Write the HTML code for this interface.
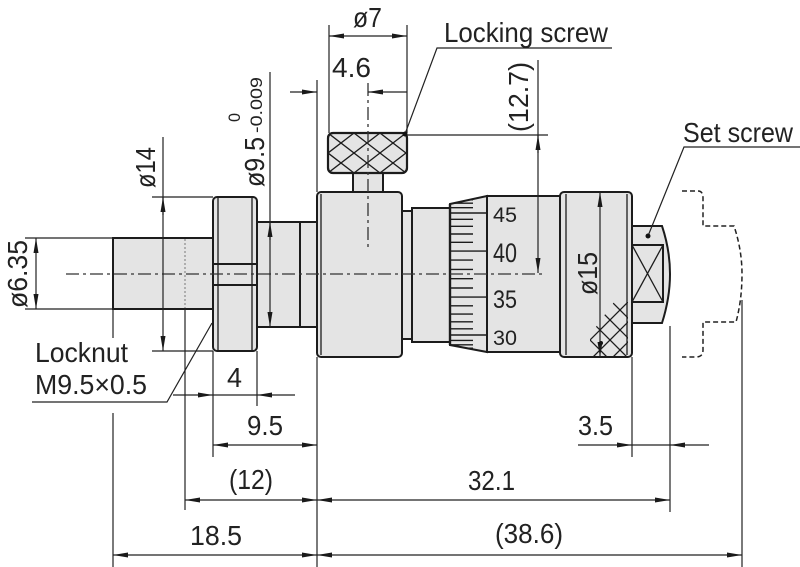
<!DOCTYPE html>
<html>
<head>
<meta charset="utf-8">
<style>
html,body{margin:0;padding:0;background:#fff;}
svg{display:block;}
text{font-family:"Liberation Sans",sans-serif;fill:#222;}
</style>
</head>
<body>
<svg width="800" height="567" viewBox="0 0 800 567" xmlns="http://www.w3.org/2000/svg">
<defs>
<marker id="a" viewBox="0 0 15 5" refX="15" refY="2.5" markerWidth="15" markerHeight="5" markerUnits="userSpaceOnUse" orient="auto-start-reverse"><path d="M0,0 L15,2.5 L0,5 Z" fill="#1a1a1a"/></marker>
<clipPath id="kn"><rect x="328" y="133" width="79" height="40" rx="5"/></clipPath>
<clipPath id="bev"><polygon points="451,204 487,196 487,352 451,345"/></clipPath>
<clipPath id="col"><polygon points="590,335 614,302 628,302 628,356 590,356"/></clipPath>
</defs>

<!-- ===== PARTS ===== -->
<g stroke="#1c1c1c" stroke-width="2" fill="#e4e4e4">
  <!-- spindle -->
  <rect x="113" y="238" width="100" height="71"/>
  <!-- thread -->
  <rect x="257" y="222" width="43" height="105"/>
  <rect x="300" y="222" width="17" height="105"/>
  <!-- locknut -->
  <rect x="213" y="197" width="44" height="154" rx="4"/>
  <!-- body -->
  <rect x="317" y="192" width="85" height="165" rx="4"/>
  <!-- locking screw stem -->
  <rect x="353" y="173" width="30" height="19"/>
  <!-- knurl head -->
  <rect x="328" y="133" width="79" height="40" rx="5"/>
  <!-- small ring -->
  <rect x="402" y="211" width="10" height="128"/>
  <!-- sleeve -->
  <rect x="412" y="208" width="38" height="134"/>
  <!-- thimble bevel -->
  <polygon points="450,204 487,196 487,352 450,345"/>
  <!-- thimble -->
  <rect x="487" y="196" width="73" height="156"/>
  <!-- collar -->
  <rect x="560" y="192" width="72" height="165" rx="4"/>
  <!-- set screw -->
  <path d="M632,226 L662,226 Q670,250 670,274 Q670,298 662,323 L632,323 Z"/>
</g>

<!-- inner detail lines -->
<g stroke="#1c1c1c" stroke-width="1.3" fill="none">
  <line x1="218" y1="198" x2="218" y2="350"/>
  <line x1="252" y1="198" x2="252" y2="350"/>
  <line x1="213" y1="264" x2="257" y2="264" stroke-width="2"/>
  <line x1="213" y1="285" x2="257" y2="285" stroke-width="2"/>
  <line x1="321" y1="194" x2="321" y2="355"/>
  <line x1="566" y1="194" x2="566" y2="355"/>
  <line x1="627" y1="194" x2="627" y2="355"/>
  <rect x="632" y="245" width="31" height="57" stroke-width="2"/>
  <line x1="632" y1="245" x2="663" y2="302"/>
  <line x1="663" y1="245" x2="632" y2="302"/>
</g>

<!-- knurl crosshatch -->
<g clip-path="url(#kn)" stroke="#1c1c1c" stroke-width="1.3">
  <line x1="276" y1="133" x2="328" y2="173"/>
  <line x1="302" y1="133" x2="354" y2="173"/>
  <line x1="328" y1="133" x2="380" y2="173"/>
  <line x1="354" y1="133" x2="406" y2="173"/>
  <line x1="380" y1="133" x2="432" y2="173"/>
  <line x1="406" y1="133" x2="458" y2="173"/>
  <line x1="276" y1="173" x2="328" y2="133"/>
  <line x1="302" y1="173" x2="354" y2="133"/>
  <line x1="328" y1="173" x2="380" y2="133"/>
  <line x1="354" y1="173" x2="406" y2="133"/>
  <line x1="380" y1="173" x2="432" y2="133"/>
  <line x1="406" y1="173" x2="458" y2="133"/>
</g>
<rect x="328" y="133" width="79" height="40" rx="5" fill="none" stroke="#1c1c1c" stroke-width="2.2"/>

<!-- collar crosshatch -->
<g clip-path="url(#col)" stroke="#1c1c1c" stroke-width="1.3">
  <line x1="570" y1="300" x2="630" y2="360"/>
  <line x1="570" y1="280" x2="650" y2="360"/>
  <line x1="590" y1="280" x2="670" y2="360"/>
  <line x1="570" y1="320" x2="610" y2="360"/>
  <line x1="570" y1="380" x2="650" y2="300"/>
  <line x1="570" y1="360" x2="630" y2="300"/>
  <line x1="590" y1="380" x2="670" y2="300"/>
  <line x1="570" y1="340" x2="610" y2="300"/>
</g>

<!-- graduations -->
<g clip-path="url(#bev)" stroke="#1c1c1c" stroke-width="1.4">
  <line x1="450" y1="197.5" x2="473" y2="197.5"/>
  <line x1="450" y1="199.8" x2="473" y2="199.8"/>
  <line x1="450" y1="203.2" x2="473" y2="203.2"/>
  <line x1="450" y1="207.7" x2="473" y2="207.7"/>
  <line x1="450" y1="213" x2="486" y2="213"/>
  <line x1="450" y1="219.3" x2="473" y2="219.3"/>
  <line x1="450" y1="226.3" x2="473" y2="226.3"/>
  <line x1="450" y1="234" x2="473" y2="234"/>
  <line x1="450" y1="242.3" x2="473" y2="242.3"/>
  <line x1="450" y1="251.1" x2="486" y2="251.1"/>
  <line x1="450" y1="260.1" x2="473" y2="260.1"/>
  <line x1="450" y1="269.4" x2="473" y2="269.4"/>
  <line x1="450" y1="278.7" x2="473" y2="278.7"/>
  <line x1="450" y1="288" x2="473" y2="288"/>
  <line x1="450" y1="297.1" x2="486" y2="297.1"/>
  <line x1="450" y1="305.8" x2="473" y2="305.8"/>
  <line x1="450" y1="314.1" x2="473" y2="314.1"/>
  <line x1="450" y1="321.8" x2="473" y2="321.8"/>
  <line x1="450" y1="328.8" x2="473" y2="328.8"/>
  <line x1="450" y1="335" x2="486" y2="335"/>
  <line x1="450" y1="340.4" x2="473" y2="340.4"/>
  <line x1="450" y1="344.8" x2="473" y2="344.8"/>
  <line x1="450" y1="348.2" x2="473" y2="348.2"/>
  <line x1="450" y1="350.5" x2="473" y2="350.5"/>
</g>
<line x1="450" y1="204" x2="450" y2="345" stroke="#1c1c1c" stroke-width="2.4"/>

<!-- thimble numbers -->
<text transform="translate(493,222) scale(1,0.95)" font-size="22" textLength="24" lengthAdjust="spacingAndGlyphs">45</text>
<text transform="translate(493,262) scale(1,1.2)" font-size="22" textLength="24" lengthAdjust="spacingAndGlyphs">40</text>
<text transform="translate(493,308) scale(1,1.15)" font-size="22" textLength="24" lengthAdjust="spacingAndGlyphs">35</text>
<text transform="translate(493,345) scale(1,0.95)" font-size="22" textLength="24" lengthAdjust="spacingAndGlyphs">30</text>

<!-- dashed ghost outline -->
<path d="M682,191 L698,191 Q703,191 703,198 L703,226 L734,226 Q742,250 742,274 Q742,300 736,322 L703,322 L703,350 Q703,357 696,357 L682,357" fill="none" stroke="#222" stroke-width="1.5" stroke-dasharray="5 3"/>

<!-- center lines -->
<line x1="66" y1="274" x2="545" y2="274" stroke="#333" stroke-width="1.3" stroke-dasharray="13 4 3 4"/>
<line x1="368" y1="83" x2="368" y2="247" stroke="#333" stroke-width="1.3" stroke-dasharray="13 4 3 4"/>
<line x1="185" y1="239" x2="185" y2="308" stroke="#777" stroke-width="1" stroke-dasharray="2 2"/>

<!-- ===== DIMENSIONS ===== -->
<g stroke="#222" stroke-width="1.2" fill="none">
  <!-- extension lines -->
  <line x1="25" y1="238" x2="113" y2="238"/>
  <line x1="25" y1="309" x2="113" y2="309"/>
  <line x1="152" y1="197" x2="213" y2="197"/>
  <line x1="152" y1="351" x2="213" y2="351"/>
  <line x1="329" y1="25" x2="329" y2="133"/>
  <line x1="407" y1="25" x2="407" y2="133"/>
  <line x1="317" y1="80" x2="317" y2="192"/>
  <line x1="407" y1="135" x2="548" y2="135"/>
  <line x1="113" y1="309" x2="113" y2="338"/>
  <line x1="113" y1="413" x2="113" y2="567"/>
  <line x1="185" y1="309" x2="185" y2="510"/>
  <line x1="213" y1="351" x2="213" y2="457"/>
  <line x1="257" y1="351" x2="257" y2="406"/>
  <line x1="317" y1="357" x2="317" y2="567"/>
  <line x1="632" y1="357" x2="632" y2="457"/>
  <line x1="670" y1="326" x2="670" y2="512"/>
  <line x1="742" y1="300" x2="742" y2="567"/>

  <!-- ø6.35 -->
  <line x1="36" y1="238" x2="36" y2="309" marker-start="url(#a)" marker-end="url(#a)"/>
  <!-- ø14 -->
  <line x1="163" y1="137" x2="163" y2="351" marker-end="url(#a)"/>
  <line x1="163" y1="215" x2="163" y2="197" marker-end="url(#a)"/>
  <!-- ø9.5 -->
  <line x1="270" y1="72" x2="270" y2="327" marker-end="url(#a)"/>
  <line x1="270" y1="240" x2="270" y2="222" marker-end="url(#a)"/>
  <!-- ø7 -->
  <line x1="329" y1="36" x2="407" y2="36" marker-start="url(#a)" marker-end="url(#a)"/>
  <!-- 4.6 -->
  <line x1="290" y1="92" x2="317" y2="92" marker-end="url(#a)"/>
  <line x1="407" y1="92" x2="368" y2="92" marker-end="url(#a)"/>
  <!-- (12.7) -->
  <line x1="538" y1="60" x2="538" y2="273" marker-end="url(#a)"/>
  <line x1="538" y1="153" x2="538" y2="135" marker-end="url(#a)"/>
  <!-- ø15 -->
  <line x1="600" y1="192" x2="600" y2="357" marker-start="url(#a)" marker-end="url(#a)"/>
  <!-- 4 -->
  <line x1="173" y1="395" x2="213" y2="395" marker-end="url(#a)"/>
  <line x1="295" y1="395" x2="257" y2="395" marker-end="url(#a)"/>
  <line x1="213" y1="395" x2="257" y2="395"/>
  <!-- 9.5 -->
  <line x1="213" y1="445" x2="317" y2="445" marker-start="url(#a)" marker-end="url(#a)"/>
  <!-- (12) -->
  <line x1="185" y1="500" x2="317" y2="500" marker-start="url(#a)" marker-end="url(#a)"/>
  <!-- 32.1 -->
  <line x1="317" y1="500" x2="670" y2="500" marker-start="url(#a)" marker-end="url(#a)"/>
  <!-- 18.5 -->
  <line x1="113" y1="555" x2="317" y2="555" marker-start="url(#a)" marker-end="url(#a)"/>
  <!-- (38.6) -->
  <line x1="317" y1="555" x2="742" y2="555" marker-start="url(#a)" marker-end="url(#a)"/>
  <!-- 3.5 -->
  <line x1="578" y1="445" x2="632" y2="445" marker-end="url(#a)"/>
  <line x1="709" y1="445" x2="670" y2="445" marker-end="url(#a)"/>
  <line x1="632" y1="445" x2="670" y2="445"/>

  <!-- leaders -->
  <polyline points="405,134 437,48 612,48"/>
  <polyline points="648,236 684,147 800,147"/>
  <polyline points="32,402 167,402 212,323"/>
</g>
<circle cx="405" cy="134" r="2.5" fill="#111"/>
<circle cx="648" cy="236" r="2.5" fill="#111"/>
<circle cx="601" cy="343" r="2" fill="#111"/>

<!-- ===== LABELS ===== -->
<g font-size="28">
  <text x="353" y="27" textLength="29" lengthAdjust="spacingAndGlyphs">ø7</text>
  <text x="332" y="77" textLength="39" lengthAdjust="spacingAndGlyphs">4.6</text>
  <text x="444" y="42" textLength="164" lengthAdjust="spacingAndGlyphs">Locking screw</text>
  <text x="683" y="142" textLength="110" lengthAdjust="spacingAndGlyphs">Set screw</text>
  <text x="35" y="362" textLength="93" lengthAdjust="spacingAndGlyphs">Locknut</text>
  <text x="35" y="394" textLength="112" lengthAdjust="spacingAndGlyphs">M9.5×0.5</text>
  <text x="227" y="387" textLength="15" lengthAdjust="spacingAndGlyphs">4</text>
  <text x="247" y="435" textLength="36" lengthAdjust="spacingAndGlyphs">9.5</text>
  <text x="229" y="489" textLength="44" lengthAdjust="spacingAndGlyphs">(12)</text>
  <text x="190" y="545" textLength="52" lengthAdjust="spacingAndGlyphs">18.5</text>
  <text x="468" y="490" textLength="47" lengthAdjust="spacingAndGlyphs">32.1</text>
  <text x="495" y="543" textLength="68" lengthAdjust="spacingAndGlyphs">(38.6)</text>
  <text x="578" y="435" textLength="35" lengthAdjust="spacingAndGlyphs">3.5</text>

  <text transform="translate(27,308) rotate(-90)" textLength="68" lengthAdjust="spacingAndGlyphs">ø6.35</text>
  <text transform="translate(155,188) rotate(-90)" textLength="41" lengthAdjust="spacingAndGlyphs">ø14</text>
  <text transform="translate(264,187) rotate(-90)" textLength="50" lengthAdjust="spacingAndGlyphs">ø9.5</text>
  <text transform="translate(528,132) rotate(-90)" textLength="70" lengthAdjust="spacingAndGlyphs">(12.7)</text>
  <text transform="translate(597,295) rotate(-90)" textLength="43" lengthAdjust="spacingAndGlyphs">ø15</text>
</g>
<text transform="translate(240,122) rotate(-90)" font-size="17" textLength="9" lengthAdjust="spacingAndGlyphs">0</text>
<text transform="translate(262,133) rotate(-90)" font-size="17" textLength="56" lengthAdjust="spacingAndGlyphs">-0.009</text>
</svg>
</body>
</html>
